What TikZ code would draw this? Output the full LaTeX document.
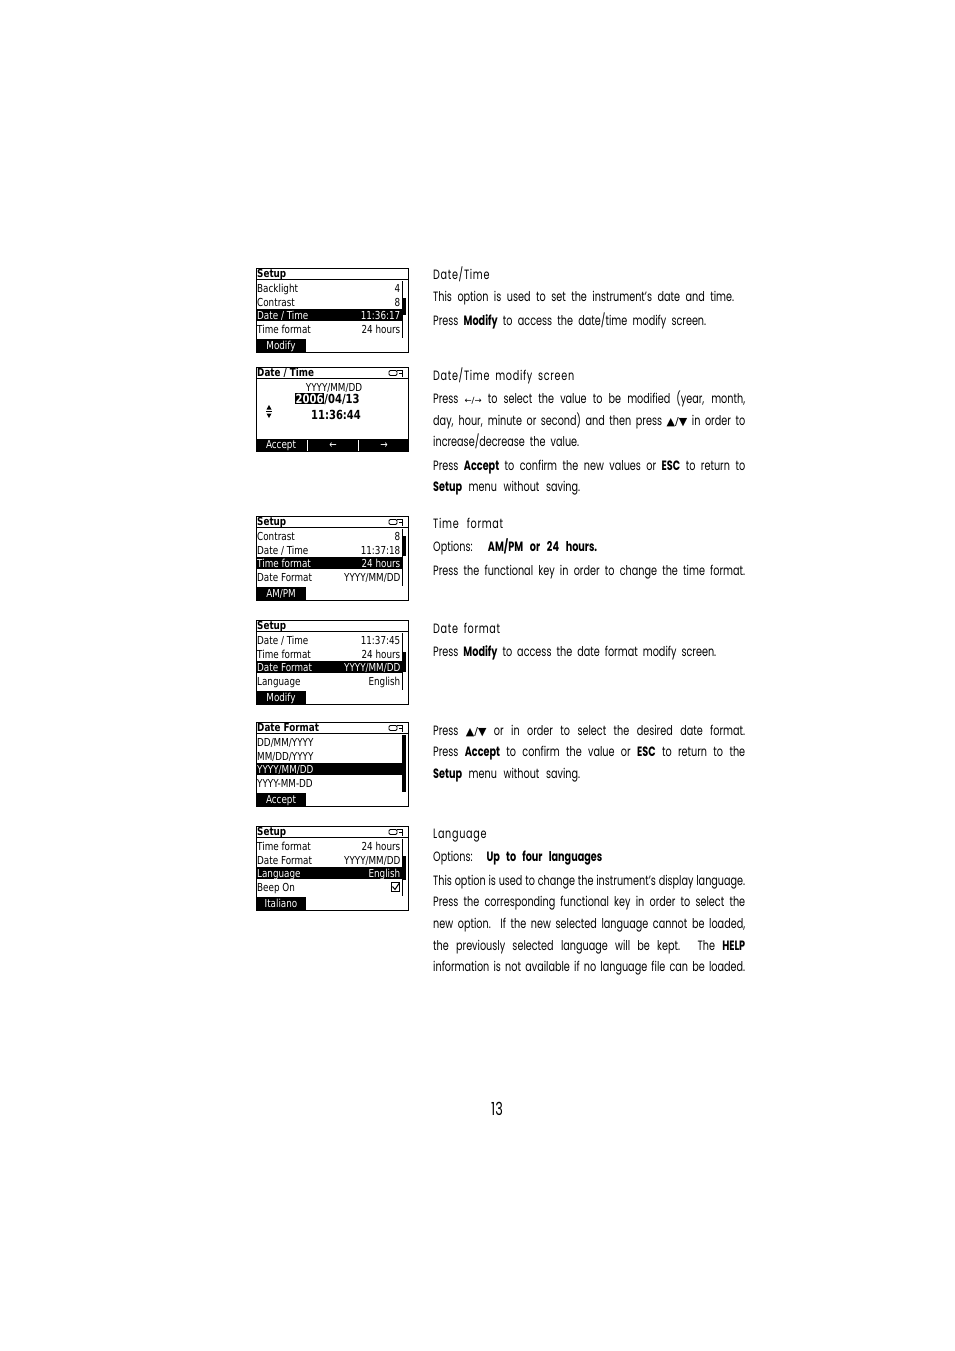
\documentclass[tikz,border=0pt]{standalone}
\usepackage{graphicx}
\usepackage{fontspec}
\setmainfont{Poppins}[FakeStretch=0.715]
\newfontfamily\lcd{DejaVu Sans}[FakeStretch=0.8]
\newfontfamily\sym{DejaVu Sans}
\tikzset{
  txt/.style={anchor=base west, inner sep=0pt, font=\fontsize{13.5}{13.5}\selectfont},
  head/.style={txt, font=\fontsize{13.5}{13.5}\selectfont\addfontfeatures{LetterSpace=5}},
  pnum/.style={anchor=base, inner sep=0pt, font=\fontsize{18}{18}\selectfont},
  lcdt/.style={anchor=base west, inner sep=0pt, font=\lcd\fontsize{11}{11}\selectfont},
  lcdr/.style={anchor=base east, inner sep=0pt, font=\lcd\fontsize{11}{11}\selectfont},
  lcdc/.style={anchor=base, inner sep=0pt, font=\lcd\fontsize{11}{11}\selectfont},
  lcdh/.style={anchor=base west, inner sep=0pt, font=\lcd\bfseries\fontsize{11}{11}\selectfont},
  lcdb/.style={anchor=base, inner sep=0pt, font=\lcd\bfseries\fontsize{12.5}{12.5}\selectfont},
  scrframe/.style={draw=black, line width=0.8pt},
}
\newlength\lnw
\newcommand\fitline[2]{%
  \settowidth\lnw{#2}%
  \ifdim\lnw<#1\relax\makebox[#1][s]{#2}\else\resizebox{#1}{\height}{#2}\fi}
\newcommand\scrbox[2]{% prefix, header
  \draw[scrframe] (0,0) rectangle (152,84);
  \draw[line width=0.8pt] (0,11) -- (152,11);
  \node[lcdh] (#1h) at (1,9.5) {#2};}
\newcommand\battery{%
  \draw[line width=0.9pt, rounded corners=1.2pt] (133,3.5) rectangle (141,8.5);
  \draw[line width=0.9pt] (141,3.5) -- (146,3.5) -- (146,10) (143,6.5) -- (146,6.5);}
\newcommand\lrow[4]{% prefix, baseline, left, right
  \node[lcdt] (#1l) at (1,#2) {#3};
  \node[lcdr] (#1r) at (144.5,#2) {#4};}
\newcommand\hrow[3]{% prefix, left, right
  \fill (0,41) rectangle (146,53);
  \node[lcdt,text=white] (#1l) at (1,51.5) {#2};
  \node[lcdr,text=white] (#1r) at (144.5,51.5) {#3};}
\newcommand\scrollbar[2]{%
  \draw[line width=0.8pt] (146,13) -- (146,70);
  \fill (147,#1) rectangle (150,#2);}
\newcommand\button[2]{%
  \fill (0,71) rectangle (50,84);
  \node[lcdc,text=white] (#1) at (25,81.5) {#2};}
% name, baseline, right end x (px), text
\newcommand\tline[4]{\node[txt] (#1) at (433,#2) {\fitline{\dimexpr #3pt-433pt\relax}{#4}};}
\newcommand\headline[4]{\node[head] (#1) at (433,#2) {\fitline{\dimexpr #3pt-433pt\relax}{#4}};}
\newcommand\updn{{\sym\fontsize{11}{11}\selectfont ▲/▼}}
\newcommand\lr{{\sym\fontsize{8.5}{8.5}\selectfont ←/→}}
\begin{document}
\begin{tikzpicture}[x=1pt,y=-1pt]
\fill[white] (0,0) rectangle (954,1351);
\useasboundingbox (0,0) rectangle (954,1351);

% ---------- Screen 1
\begin{scope}[shift={(256,268)}]
  \scrbox{sa}{Setup}
  \lrow{saa}{24.5}{Backlight}{4}
  \lrow{sab}{38}{Contrast}{8}
  \hrow{sac}{Date / Time}{11:36:17}
  \lrow{sad}{65}{Time format}{24 hours}
  \scrollbar{30}{47}
  \button{sab1}{Modify}
\end{scope}

% ---------- Screen 2
\begin{scope}[shift={(256,367)}]
  \scrbox{sb}{Date / Time}
  \battery
  \node[lcdc] (sbf) at (78,24) {YYYY/MM/DD};
  \node[lcdb, anchor=base west, fill=black, text=white, inner xsep=0.5pt, inner ysep=1pt] (sby) at (39,36) {2006};
  \node[lcdb, anchor=base west] (sbd) at (sby.base east) {/04/13};
  \node[lcdb] (sbt) at (80,52) {11:36:44};
  \fill (13,38) -- (10.5,42.5) -- (15.5,42.5) -- cycle;
  \draw[line width=0.9pt] (10,44.5) -- (16,44.5);
  \fill (13,51) -- (10.5,46.5) -- (15.5,46.5) -- cycle;
  \fill (0,72) rectangle (152,84);
  \draw[white, line width=0.8pt] (51,73) -- (51,84) (102,73) -- (102,84);
  \node[lcdc,text=white] (sbb1) at (25,81.5) {Accept};
  \node[lcdc,text=white] (sbb2) at (77,81.5) {←};
  \node[lcdc,text=white] (sbb3) at (128,81.5) {→};
\end{scope}

% ---------- Screen 3
\begin{scope}[shift={(256,516)}]
  \scrbox{sc}{Setup}
  \battery
  \lrow{sca}{24.5}{Contrast}{8}
  \lrow{scb}{38}{Date / Time}{11:37:18}
  \hrow{scc}{Time format}{24 hours}
  \lrow{scd}{65}{Date Format}{YYYY/MM/DD}
  \scrollbar{20}{40}
  \button{scb1}{AM/PM}
\end{scope}

% ---------- Screen 4
\begin{scope}[shift={(256,620)}]
  \scrbox{sd}{Setup}
  \lrow{sda}{24.5}{Date / Time}{11:37:45}
  \lrow{sdb}{38}{Time format}{24 hours}
  \hrow{sdc}{Date Format}{YYYY/MM/DD}
  \lrow{sdd}{65}{Language}{English}
  \scrollbar{32}{52}
  \button{sdb1}{Modify}
\end{scope}

% ---------- Screen 5
\begin{scope}[shift={(256,722)}]
  \scrbox{se}{Date Format}
  \battery
  \lrow{sea}{24.5}{DD/MM/YYYY}{}
  \lrow{seb}{38}{MM/DD/YYYY}{}
  \hrow{sec}{YYYY/MM/DD}{}
  \lrow{sed}{65}{YYYY-MM-DD}{}
  \scrollbar{13}{70}
  \button{seb1}{Accept}
\end{scope}

% ---------- Screen 6
\begin{scope}[shift={(256,826)}]
  \scrbox{sf}{Setup}
  \battery
  \lrow{sfa}{24.5}{Time format}{24 hours}
  \lrow{sfb}{38}{Date Format}{YYYY/MM/DD}
  \hrow{sfc}{Language}{English}
  \lrow{sfd}{65}{Beep On}{}
  \draw[line width=0.8pt] (135,56.5) rectangle (143.5,65);
  \draw[line width=1pt] (136.5,60.5) -- (139,63.5) -- (143,57.5);
  \scrollbar{30}{54}
  \button{sfb1}{Italiano}
\end{scope}

% ---------- Text
\headline{t1}{279.5}{491}{Date/Time}
\tline{t2}{301.7}{734}{This option is used to set the instrument’s date and time.}
\tline{t3}{325}{706}{Press \textbf{Modify} to access the date/time modify screen.}

\headline{t4}{380.7}{574}{Date/Time modify screen}
\tline{t5}{403.3}{745}{Press \lr{} to select the value to be modified (year, month,}
\tline{t6}{425}{745}{day, hour, minute or second) and then press \updn{} in order to}
\tline{t7}{446}{579}{increase/decrease the value.}
\tline{t8}{470}{745}{Press \textbf{Accept} to confirm the new values or \textbf{ESC} to return to}
\tline{t9}{491}{580}{\textbf{Setup} menu without saving.}

\headline{t10}{528.3}{503}{Time format}
\tline{t11}{551.7}{597}{Options: \textbf{AM/PM or 24 hours.}}
\tline{t12}{575}{745}{Press the functional key in order to change the time format.}

\headline{t13}{633.3}{500}{Date format}
\tline{t14}{656.7}{716}{Press \textbf{Modify} to access the date format modify screen.}

\tline{t15}{735}{745}{Press \updn{} or in order to select the desired date format.}
\tline{t16}{756.7}{745}{Press \textbf{Accept} to confirm the value or \textbf{ESC} to return to the}
\tline{t17}{778.3}{580}{\textbf{Setup} menu without saving.}

\headline{t18}{838.3}{490}{Language}
\tline{t19}{861.7}{602}{Options: \textbf{Up to four languages}}
\tline{t20}{885}{745}{This option is used to change the instrument’s display language.}
\tline{t21}{906.7}{745}{Press the corresponding functional key in order to select the}
\tline{t22}{928.3}{745}{new option. If the new selected language cannot be loaded,}
\tline{t23}{950}{745}{the previously selected language will be kept. The \textbf{HELP}}
\tline{t24}{971.7}{745}{information is not available if no language file can be loaded.}

\node[pnum] (pg) at (497,1115.7) {13};
\end{tikzpicture}
\end{document}
